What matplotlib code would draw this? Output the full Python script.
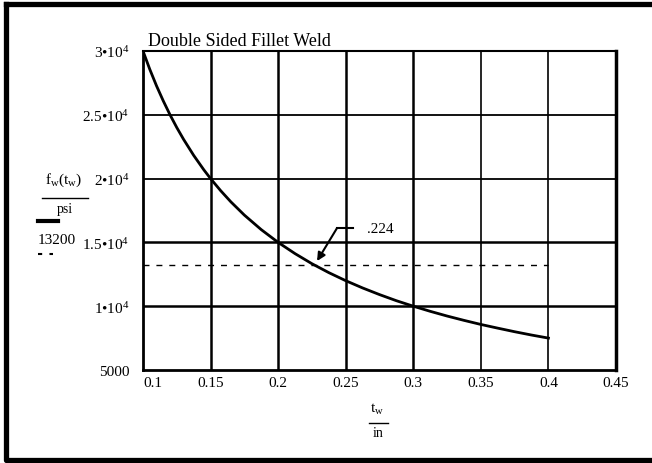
import matplotlib
matplotlib.use("Agg")
import matplotlib.pyplot as plt
from matplotlib.lines import Line2D

plt.rcParams['font.family'] = ['Liberation Serif', 'DejaVu Serif']
plt.rcParams['mathtext.fontset'] = 'custom'
plt.rcParams['mathtext.rm'] = 'Liberation Serif'
plt.rcParams['mathtext.it'] = 'Liberation Serif'

# weld stress f_w(t_w) in psi
t_w = [0.1, 0.105, 0.11, 0.115, 0.12, 0.125, 0.13, 0.1375, 0.145, 0.15,
       0.1575, 0.165, 0.175, 0.1875, 0.2, 0.2125, 0.225, 0.2375, 0.25,
       0.2625, 0.275, 0.2875, 0.3, 0.3125, 0.325, 0.3375, 0.35, 0.3625,
       0.375, 0.3875, 0.4]
f_w = [30000, 28570, 27270, 26090, 25000, 24000, 23080, 21820, 20690, 20000,
       19050, 18180, 17140, 16000, 15000, 14120, 13330, 12630, 12000,
       11430, 10910, 10430, 10000, 9600, 9230, 8890, 8570, 8280,
       8000, 7740, 7500]

limit_x = [0.1, 0.4]
limit_y = [13200, 13200]

x_ticks = [0.1, 0.15, 0.2, 0.25, 0.3, 0.35, 0.4, 0.45]
x_labels = ['0.1', '0.15', '0.2', '0.25', '0.3', '0.35', '0.4', '0.45']
y_ticks = [5000, 10000, 15000, 20000, 25000, 30000]
y_labels = ['5000', '1•10$^4$', '1.5•10$^4$', '2•10$^4$', '2.5•10$^4$', '3•10$^4$']

W, H = 652, 464


def fx(px):
    return px / W


def fy(py):
    return 1 - py / H


fig = plt.figure(figsize=(W / 100, H / 100), dpi=100)
ax = fig.add_axes([fx(143), fy(371), (616 - 143) / W, (371 - 52) / H])

ax.set_xlim(0.1, 0.45)
ax.set_ylim(5000, 30000)

# grid, drawn by hand to get Mathcad's uneven line weights
vw = [0, 1.8, 1.8, 1.8, 1.8, 1.2, 1.2, 0]
for x, lw in zip(x_ticks, vw):
    if lw:
        ax.axvline(x, color='black', lw=lw, zorder=1)
hw = [0, 1.8, 1.8, 1.3, 1.3, 0]
for y, lw in zip(y_ticks, hw):
    if lw:
        ax.axhline(y, color='black', lw=lw, zorder=1)

ax.plot(t_w, f_w, color='black', lw=2, zorder=3)
ax.plot(limit_x, limit_y, color='black', lw=1, dashes=(4.3, 5), zorder=2)

ax.set_xticks(x_ticks)
ax.set_xticklabels(x_labels, fontsize=11)
ax.set_yticks(y_ticks)
ax.set_yticklabels(y_labels, fontsize=11)
ax.tick_params(axis='x', length=0, pad=4.5)
ax.tick_params(axis='y', length=0, pad=10)
ax.get_xticklabels()[0].set_horizontalalignment('left')

for side, lw in [('left', 2), ('bottom', 2), ('top', 1.5), ('right', 2.5)]:
    ax.spines[side].set_linewidth(lw)

# arrow annotation
ax.plot([0.2436, 0.2554], [16128, 16128], color='black', lw=1.5, zorder=4)
ax.annotate('', xy=(0.2288, 13540), xytext=(0.2436, 16128),
            arrowprops=dict(arrowstyle='-|>', color='black', lw=1.5,
                            mutation_scale=12, shrinkA=0, shrinkB=0),
            zorder=4)
ax.text(0.2658, 16128, '.224', fontsize=11, va='center', ha='left')

# title
fig.text(fx(148), fy(42), 'Double Sided Fillet Weld', fontsize=13,
         ha='left', va='center')

# y label block
fig.text(fx(64), fy(180), 'f$_{\\rm w}$(t$_{\\rm w}$)', fontsize=11,
         ha='center', va='center')
fig.add_artist(Line2D([fx(42), fx(88)], [fy(199), fy(199)], color='black',
                      lw=1, transform=fig.transFigure))
fig.text(fx(65), fy(209), 'psi', fontsize=10, ha='center', va='center')
fig.add_artist(Line2D([fx(38), fx(58)], [fy(222), fy(222)], color='black',
                      lw=3, transform=fig.transFigure))
fig.text(fx(38), fy(240), '13200', fontsize=11, ha='left', va='center')
fig.add_artist(Line2D([fx(38), fx(53)], [fy(255), fy(255)], color='black',
                      lw=1.5, dashes=(2, 3.5), transform=fig.transFigure))

# x label block
fig.text(fx(377), fy(409), 't$_{\\rm w}$', fontsize=11, ha='center', va='center')
fig.add_artist(Line2D([fx(369), fx(388)], [fy(424), fy(424)], color='black',
                      lw=1, transform=fig.transFigure))
fig.text(fx(378), fy(434), 'in', fontsize=10, ha='center', va='center')

# outer frame
fig.add_artist(Line2D([fx(5.5), fx(5.5), fx(660), fx(660), fx(5.5)],
                      [fy(4.5), fy(461), fy(461), fy(4.5), fy(4.5)],
                      color='black', lw=3.8, transform=fig.transFigure))

fig.savefig('out.png', dpi=100)
